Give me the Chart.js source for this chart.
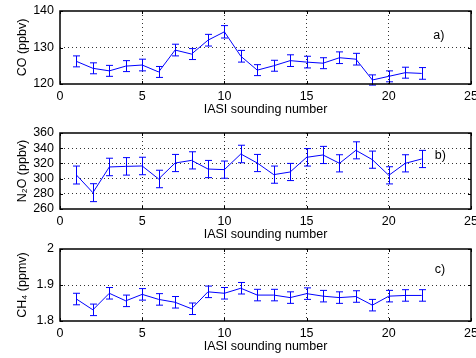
<!DOCTYPE html>
<html>
<head>
<meta charset="UTF-8">
<title>IASI soundings</title>
<script src="https://cdn.jsdelivr.net/npm/chart.js"></script>
<style>
  html, body { margin: 0; padding: 0; background: #fff; }
  #wrap { position: relative; width: 476px; height: 358px; overflow: hidden; }
  canvas { position: absolute; left: 0; }
</style>
</head>
<body>
<div id="wrap">
  <canvas id="chartA" width="476" height="117" style="top:0px"></canvas>
  <canvas id="chartB" width="476" height="125" style="top:117px"></canvas>
  <canvas id="chartC" width="476" height="117" style="top:241px"></canvas>
</div>
<script>
// sounding numbers (x axis)
const sounding = [1, 2, 3, 4, 5, 6, 7, 8, 9, 10, 11, 12, 13, 14, 15, 16, 17, 18, 19, 20, 21, 22];

// a) CO (ppbv)
const coValues = [126.2, 124.3, 123.6, 124.9, 125.2, 123.3, 129.3, 128.2, 132.0, 134.3, 127.6,
                  123.8, 125.0, 126.4, 126.0, 125.7, 127.2, 126.8, 121.1, 122.1, 123.1, 122.9];
const coErr = [1.5, 1.5, 1.5, 1.5, 1.6, 1.5, 1.6, 1.5, 1.6, 1.7, 1.6,
               1.5, 1.5, 1.6, 1.6, 1.5, 1.6, 1.6, 1.4, 1.5, 1.5, 1.6];

// b) N2O (ppbv)
const n2oValues = [304.7, 281.5, 315.3, 316.1, 316.6, 299.5, 320.5, 324.0, 312.6, 311.8, 332.4,
                   320.5, 305.2, 308.7, 328.0, 331.1, 320.1, 337.2, 324.9, 304.3, 320.1, 325.8];
const n2oErr = [11.8, 11.8, 11.5, 11.5, 11.5, 11.5, 11.3, 11.3, 11.3, 11.3, 11.5,
                11.3, 11.3, 11.3, 11.5, 11.3, 11.3, 11.2, 11.3, 11.3, 11.3, 11.3];

// c) CH4 (ppmv)
const ch4Values = [1.861, 1.831, 1.877, 1.856, 1.874, 1.860, 1.852, 1.834, 1.881, 1.877, 1.891,
                   1.872, 1.872, 1.865, 1.876, 1.869, 1.865, 1.868, 1.844, 1.869, 1.871, 1.871];
const ch4Err = [0.016, 0.016, 0.016, 0.016, 0.016, 0.016, 0.016, 0.016, 0.016, 0.016, 0.016,
                0.016, 0.016, 0.016, 0.016, 0.016, 0.016, 0.016, 0.016, 0.016, 0.016, 0.016];

// axis ranges / ticks
const xTicks = [0, 5, 10, 15, 20, 25];
const coRange = [120, 140], coStep = 10;
const n2oRange = [260, 360], n2oStep = 20;
const ch4Range = [1.8, 2.0], ch4Step = 0.1;

const FONT = 'Liberation Sans, Arial, Helvetica, sans-serif';
const FSIZE = 12.5;
const BLUE = '#0000ff';

// error bars, box, inward ticks and panel letter
const matlabLook = {
  id: 'matlabLook',
  afterDatasetsDraw(chart, args, opts) {
    const ctx = chart.ctx;
    const xs = chart.scales.x, ys = chart.scales.y;
    const a = chart.chartArea;
    ctx.save();
    // error bars
    ctx.strokeStyle = BLUE;
    ctx.lineWidth = 1;
    const data = chart.data.datasets[0].data;
    data.forEach((p, i) => {
      const px = Math.round(xs.getPixelForValue(p.x)) + 0.5;
      const y1 = ys.getPixelForValue(p.y - opts.err[i]);
      const y2 = ys.getPixelForValue(p.y + opts.err[i]);
      ctx.beginPath();
      ctx.moveTo(px, y1); ctx.lineTo(px, y2);
      ctx.moveTo(px - 3.5, y1); ctx.lineTo(px + 3.5, y1);
      ctx.moveTo(px - 3.5, y2); ctx.lineTo(px + 3.5, y2);
      ctx.stroke();
    });
    // inward ticks
    ctx.strokeStyle = '#000';
    ctx.lineWidth = 1;
    ctx.beginPath();
    xs.ticks.forEach(t => {
      const px = Math.round(xs.getPixelForValue(t.value)) + 0.5;
      ctx.moveTo(px, a.bottom); ctx.lineTo(px, a.bottom - 3);
      ctx.moveTo(px, a.top); ctx.lineTo(px, a.top + 3);
    });
    ys.ticks.forEach(t => {
      const py = Math.round(ys.getPixelForValue(t.value)) + 0.5;
      ctx.moveTo(a.left, py); ctx.lineTo(a.left + 3, py);
      ctx.moveTo(a.right, py); ctx.lineTo(a.right - 3, py);
    });
    ctx.stroke();
    // box
    ctx.lineWidth = 1.5;
    ctx.strokeRect(a.left, a.top, a.right - a.left, a.bottom - a.top);
    // panel letter
    ctx.fillStyle = '#000';
    ctx.font = FSIZE + 'px ' + FONT;
    ctx.textAlign = 'left';
    ctx.textBaseline = 'middle';
    ctx.fillText(opts.label, xs.getPixelForValue(opts.labelAt[0]), ys.getPixelForValue(opts.labelAt[1]));
    ctx.restore();
  }
};

function makePanel(id, values, err, range, step, yTitle, letter, letterAt, padTop, padBottom) {
  const pts = sounding.map((x, i) => ({ x: x, y: values[i] }));
  const nY = Math.round((range[1] - range[0]) / step);
  return new Chart(document.getElementById(id), {
    type: 'line',
    data: {
      datasets: [{
        data: pts,
        borderColor: BLUE,
        borderWidth: 1,
        pointRadius: 0,
        tension: 0,
        fill: false
      }]
    },
    options: {
      responsive: false,
      animation: false,
      devicePixelRatio: 1,
      layout: { padding: { top: padTop, bottom: padBottom, left: 0, right: 5 } },
      plugins: {
        legend: { display: false },
        tooltip: { enabled: false },
        matlabLook: { err: err, label: letter, labelAt: letterAt }
      },
      scales: {
        x: {
          type: 'linear',
          min: xTicks[0], max: xTicks[xTicks.length - 1],
          afterBuildTicks: s => { s.ticks = xTicks.map(v => ({ value: v })); },
          ticks: { color: '#000', font: { family: FONT, size: FSIZE }, padding: 5,
                   maxRotation: 0, autoSkip: false },
          grid: {
            drawTicks: false,
            color: c => (c.index === 0 || c.index === xTicks.length - 1) ? 'rgba(0,0,0,0)' : '#333',
            lineWidth: 1
          },
          border: { display: false, dash: [1, 3] },
          title: { display: true, text: 'IASI sounding number', color: '#000',
                   font: { family: FONT, size: FSIZE }, padding: 0 },
          afterFit: s => { s.height = 33; s.paddingLeft = 0; s.paddingRight = 0; }
        },
        y: {
          min: range[0], max: range[1],
          ticks: {
            stepSize: step, color: '#000', font: { family: FONT, size: FSIZE }, padding: 6,
            autoSkip: false,
            callback: v => String(Number(v.toFixed(2)))
          },
          grid: {
            drawTicks: false,
            color: c => (c.index === 0 || c.index === nY) ? 'rgba(0,0,0,0)' : '#333',
            lineWidth: 1
          },
          border: { display: false, dash: [1, 3] },
          title: { display: true, text: yTitle, color: '#000',
                   font: { family: FONT, size: FSIZE }, padding: { top: 15, bottom: 0 } },
          afterFit: s => { s.width = 60; s.paddingTop = 0; s.paddingBottom = 0; }
        }
      }
    },
    plugins: [matlabLook]
  });
}

makePanel('chartA', coValues, coErr, coRange, coStep, 'CO (ppbv)', 'a)', [22.7, 133.4], 11, 0);
makePanel('chartB', n2oValues, n2oErr, n2oRange, n2oStep, 'N\u2082O (ppbv)', 'b)', [22.8, 330], 16, 0);
makePanel('chartC', ch4Values, ch4Err, ch4Range, ch4Step, 'CH\u2084 (ppmv)', 'c)', [22.8, 1.942], 8, 4);
</script>
</body>
</html>
